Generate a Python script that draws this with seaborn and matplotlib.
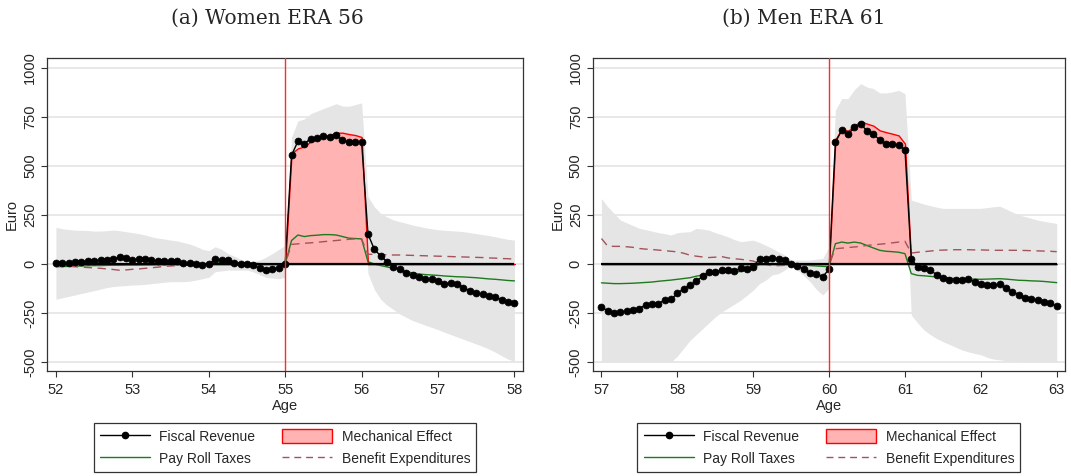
import numpy as np
import pandas as pd
import matplotlib
matplotlib.use("Agg")
import matplotlib.pyplot as plt
import seaborn as sns
from matplotlib.lines import Line2D
from matplotlib.patches import Patch

# ---------------- data (monthly, 73 points per panel) ----------------
titles = ["(a) Women ERA 56", "(b) Men ERA 61"]
start_ages = [52, 57]
era_ages = [55, 60]
xtick_labels_w = ["52", "53", "54", "55", "56", "57", "58"]
xtick_labels_m = ["57", "58", "59", "60", "61", "62", "63"]
ytick_values = [-500, -250, 0, 250, 500, 750, 1000]
ytick_labels = ["-500", "-250", "0", "250", "500", "750", "1000"]

fiscal_w = [7, 3, 5, 8, 12, 15, 17, 19, 19, 27, 34, 29,
            22, 24, 27, 19, 15, 14, 15, 14, 3, 5, 0, -7,
            0, 24, 20, 20, 7, 0, 0, -5, -22, -31, -24, -19,
            2, 555, 626, 613, 640, 641, 655, 648, 656, 634, 620, 620,
            624, 153, 75, 41, 12, -14, -27, -48, -56, -68, -78, -78,
            -85, -100, -98, -100, -120, -138, -147, -155, -163, -170, -182, -195,
            -197]
mech_w = [0] * 36 + [0, 565, 590, 600, 625, 638, 650, 658, 670, 670, 663, 658,
                     648] + [0] * 24
payroll_w = [-14, -13, -12, -11, -10, -9, -8, -8, -7, -6, -6, -5,
             -5, -5, -4, -4, -3, -3, -3, -2, -2, -2, -2, -2,
             0, 8, 8, 7, 6, 5, 4, 3, 2, 1, 0, 0,
             0, 120, 148, 140, 145, 147, 150, 150, 148, 140, 132, 130,
             128, 12, 0, -8, -15, -22, -30, -39, -45, -51, -54, -56,
             -58, -61, -63, -65, -66, -68, -70, -73, -76, -78, -81, -84,
             -86]
benefit_w = [-10, -11, -12, -14, -16, -18, -20, -22, -25, -28, -32, -30,
             -27, -25, -22, -19, -16, -12, -10, -8, -7, -6, -4, -2,
             3, 5, 4, 3, 2, 1, 0, 0, -1, -1, 0, 0,
             0, 100, 103, 106, 108, 111, 114, 117, 120, 123, 126, 128,
             128, 50, 49, 48, 47, 46, 46, 45, 44, 43, 42, 41,
             40, 39, 38, 37, 36, 35, 34, 33, 31, 30, 28, 27,
             25]
upper_w = [187, 180, 176, 173, 172, 171, 168, 168, 170, 173, 170, 165,
           160, 155, 148, 139, 132, 128, 122, 118, 110, 102, 90, 75,
           68, 88, 75, 54, 40, 25, 7, 12, 20, 35, 54, 75,
           95, 648, 730, 740, 767, 780, 793, 805, 818, 806, 805, 813,
           822, 345, 292, 258, 240, 225, 216, 208, 199, 192, 185, 180,
           175, 172, 170, 168, 165, 160, 155, 150, 145, 139, 132, 126,
           122]
lower_w = [-180, -172, -165, -158, -150, -143, -136, -128, -120, -115, -112, -110,
           -107, -106, -104, -100, -97, -93, -90, -90, -90, -88, -82, -75,
           -68, -39, -35, -31, -31, -31, -31, -40, -55, -68, -72, -75,
           -68, 450, 500, 500, 520, 520, 530, 530, 530, 520, 510, 510,
           500, -48, -130, -180, -210, -232, -255, -272, -288, -300, -312, -323,
           -335, -348, -360, -372, -384, -396, -408, -420, -434, -450, -468, -485,
           -497]

fiscal_m = [-218, -240, -250, -247, -240, -235, -227, -208, -206, -203, -183, -181,
            -149, -127, -108, -89, -62, -40, -42, -28, -30, -37, -20, -23,
            -13, 26, 26, 30, 26, 20, 0, -9, -26, -47, -49, -64,
            -27, 622, 682, 661, 697, 713, 680, 665, 631, 614, 611, 607,
            583, 27, -15, -19, -32, -54, -70, -83, -83, -80, -77, -90,
            -100, -109, -109, -104, -122, -141, -156, -172, -177, -185, -194, -201,
            -214]
mech_m = [0] * 36 + [0, 635, 690, 679, 707, 728, 716, 706, 682, 673, 665, 656,
                     614] + [0] * 24
payroll_m = [-96, -98, -100, -100, -99, -98, -96, -94, -92, -88, -85, -82,
             -78, -74, -70, -62, -56, -50, -45, -44, -43, -42, -38, -30,
             -23, 0, 2, 2, 1, 0, 0, -3, -5, -8, -10, -12,
             -14, 104, 112, 107, 112, 107, 94, 82, 70, 65, 63, 60,
             53, -49, -58, -60, -63, -66, -70, -72, -74, -75, -76, -77,
             -78, -77, -76, -75, -77, -80, -83, -84, -86, -87, -89, -92,
             -95]
benefit_m = [130, 91, 90, 90, 88, 85, 79, 76, 74, 71, 68, 65,
             62, 55, 45, 40, 36, 33, 35, 38, 31, 27, 24, 20,
             15, 3, -2, -9, -8, -7, -6, -4, -3, -2, -1, 0,
             0, 78, 81, 84, 87, 90, 95, 98, 101, 104, 108, 112,
             116, 56, 60, 63, 66, 70, 71, 72, 73, 73, 73, 72,
             72, 71, 70, 70, 70, 70, 70, 69, 68, 67, 66, 65,
             63]
upper_m = [334, 292, 258, 224, 210, 196, 182, 175, 168, 160, 155, 148,
           160, 163, 165, 182, 178, 173, 160, 150, 139, 125, 114, 118,
           122, 110, 95, 80, 62, 45, 20, 20, 20, 20, 25, 29,
           88, 785, 844, 844, 890, 920, 903, 895, 873, 873, 878, 886,
           869, 326, 316, 306, 298, 290, 284, 284, 284, 284, 284, 284,
           284, 288, 292, 295, 280, 265, 250, 242, 233, 224, 218, 212,
           207]
lower_m = [-500, -500, -500, -500, -500, -500, -500, -500, -500, -500, -500, -500,
           -470, -430, -390, -360, -330, -300, -270, -245, -225, -205, -185, -160,
           -133, -100, -82, -55, -49, -30, -6, -30, -60, -90, -130, -158,
           -124, 450, 500, 500, 520, 540, 520, 500, 480, 470, 460, 450,
           430, -260, -300, -336, -360, -380, -396, -410, -424, -438, -448, -456,
           -463, -476, -485, -489, -493, -496, -497, -500, -500, -500, -500, -500,
           -500]

panels = [
    dict(fiscal=fiscal_w, mech=mech_w, payroll=payroll_w, benefit=benefit_w,
         upper=upper_w, lower=lower_w, xt=xtick_labels_w),
    dict(fiscal=fiscal_m, mech=mech_m, payroll=payroll_m, benefit=benefit_m,
         upper=upper_m, lower=lower_m, xt=xtick_labels_m),
]

# ---------------- style ----------------
sns.set_theme(style="white")
plt.rcParams["font.family"] = ["Liberation Sans", "DejaVu Sans"]

C_BAND = "#E5E5E5"
C_FILL = "#FFB3B3"
C_RED = "#FF0000"
C_VLINE = "#FF2A2A"
C_GREEN = "#1E7A1E"
C_BEN = "#A5535A"
C_GRID = "#E6E6E6"

fig = plt.figure(figsize=(10.71, 4.76), dpi=100)
axes_pos = [[0.0439, 0.2197, 0.4444, 0.6584],
            [0.5533, 0.2197, 0.4413, 0.6584]]

for i, p in enumerate(panels):
    ax = fig.add_axes(axes_pos[i])
    ages = start_ages[i] + np.arange(len(p["fiscal"])) / 12.0
    df = pd.DataFrame({"age": ages, "fiscal": p["fiscal"], "mech": p["mech"],
                       "payroll": p["payroll"], "benefit": p["benefit"],
                       "upper": p["upper"], "lower": p["lower"]})

    for yv in ytick_values:
        ax.axhline(yv, color=C_GRID, lw=1.3, zorder=0)

    ax.fill_between(df["age"], df["lower"], df["upper"], color=C_BAND,
                    lw=0, zorder=1)
    ax.fill_between(df["age"], 0, df["mech"], facecolor=C_FILL,
                    edgecolor=C_RED, lw=1.0, zorder=2)
    sns.lineplot(data=df, x="age", y="payroll", ax=ax, color=C_GREEN,
                 lw=1.0, zorder=3)
    sns.lineplot(data=df, x="age", y="benefit", ax=ax, color=C_BEN,
                 lw=1.0, zorder=3, dashes=False, linestyle=(0, (6, 4)))
    ax.hlines(0, df["age"].min(), df["age"].max(), color="black", lw=1.6,
              zorder=4)
    sns.lineplot(data=df, x="age", y="fiscal", ax=ax, color="black", lw=1.0,
                 marker="o", markersize=5, markeredgecolor="black",
                 markeredgewidth=0.5, zorder=5)
    ax.axvline(era_ages[i], color=C_VLINE, lw=1.0, zorder=6)

    ax.set_xlim(start_ages[i] - 0.117, start_ages[i] + 6.112)
    ax.set_ylim(-548, 1051)
    ax.set_xticks(start_ages[i] + np.arange(7))
    ax.set_xticklabels(p["xt"])
    ax.set_yticks(ytick_values)
    ax.set_yticklabels(ytick_labels, rotation=90, va="center")
    ax.tick_params(axis="both", which="both", direction="out", length=4,
                   width=0.8, color="#333333", labelsize=10.5, pad=3,
                   bottom=True, left=True)
    ax.tick_params(axis="x", pad=4.5)
    ax.set_xlabel("Age", fontsize=10.5, labelpad=1)
    ax.set_ylabel("Euro", fontsize=10.5, labelpad=3)
    for s in ax.spines.values():
        s.set_color("#333333")
        s.set_linewidth(0.9)
    ax.grid(False)

    handles = [
        Line2D([], [], color="black", lw=1.0, marker="o", markersize=4.5),
        Line2D([], [], color=C_GREEN, lw=1.0),
        Patch(facecolor=C_FILL, edgecolor=C_RED, lw=1.0),
        Line2D([], [], color=C_BEN, lw=1.0, linestyle=(0, (5, 3.5))),
    ]
    labels = ["Fiscal Revenue", "Pay Roll Taxes", "Mechanical Effect",
              "Benefit Expenditures"]
    leg = ax.legend(handles, labels, ncol=2, loc="upper center",
                    bbox_to_anchor=(0.5, -0.163), frameon=True,
                    fancybox=False, edgecolor="black", fontsize=10,
                    handlelength=3.6, handleheight=1.2, handletextpad=0.7,
                    columnspacing=1.9, labelspacing=0.55, borderpad=0.45,
                    borderaxespad=0)
    leg.get_frame().set_linewidth(0.9)

    fig.text(0.25 + 0.5 * i, 1 - 18 / 476, titles[i], ha="center",
             va="center", fontsize=14.5, family=["DejaVu Serif"])

fig.savefig("out.png", dpi=100)
